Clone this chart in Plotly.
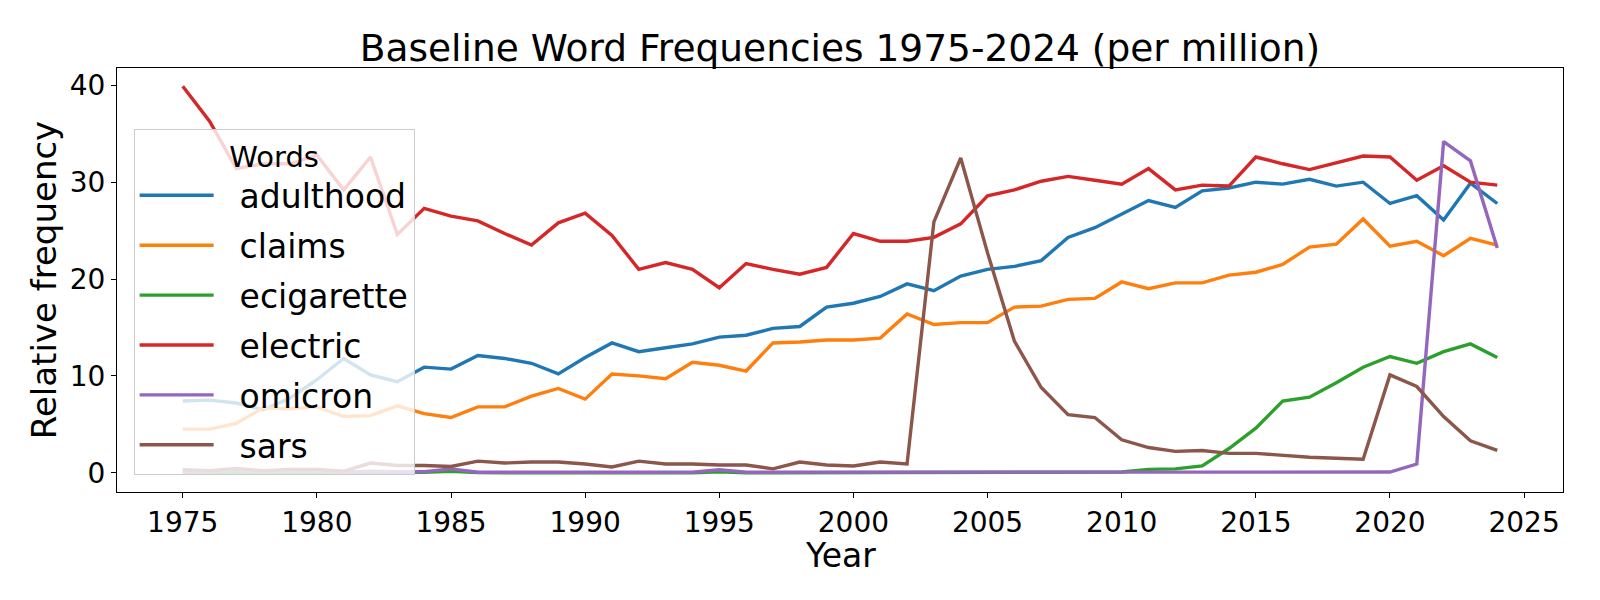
import plotly.graph_objects as go

years = list(range(1975, 2025))

adulthood = [7.4, 7.5, 7.2, 6.5, 7.7, 9.6, 11.8, 10.1, 9.4, 10.9,
             10.7, 12.1, 11.8, 11.3, 10.2, 11.9, 13.4, 12.5, 12.9, 13.3,
             14.0, 14.2, 14.9, 15.1, 17.1, 17.5, 18.2, 19.5, 18.8, 20.3,
             21.0, 21.3, 21.9, 24.3, 25.3, 26.7, 28.1, 27.4, 29.1, 29.4,
             30.0, 29.8, 30.3, 29.6, 30.0, 27.8, 28.6, 26.1, 29.9, 27.8]

claims = [4.5, 4.5, 5.1, 6.7, 6.6, 6.8, 5.8, 5.9, 6.9, 6.1,
          5.7, 6.8, 6.8, 7.9, 8.7, 7.6, 10.2, 10.0, 9.7, 11.4,
          11.1, 10.5, 13.4, 13.5, 13.7, 13.7, 13.9, 16.4, 15.3, 15.5,
          15.5, 17.1, 17.2, 17.9, 18.0, 19.7, 19.0, 19.6, 19.6, 20.4,
          20.7, 21.5, 23.3, 23.6, 26.2, 23.4, 23.9, 22.4, 24.2, 23.5]

ecigarette = [0.0, 0.0, 0.0, 0.0, 0.0, 0.0, 0.0, 0.0, 0.0, 0.05,
              0.15, 0.02, 0.0, 0.0, 0.0, 0.0, 0.0, 0.0, 0.0, 0.0,
              0.1, 0.0, 0.0, 0.0, 0.0, 0.0, 0.0, 0.0, 0.0, 0.0,
              0.0, 0.0, 0.0, 0.0, 0.02, 0.07, 0.35, 0.4, 0.7, 2.5,
              4.6, 7.4, 7.8, 9.3, 10.9, 12.0, 11.3, 12.5, 13.3, 11.9]

electric = [39.9, 36.3, 31.4, 31.9, 31.9, 32.8, 29.2, 32.6, 24.6, 27.3,
            26.5, 26.0, 24.7, 23.5, 25.8, 26.8, 24.5, 21.0, 21.7, 21.0,
            19.1, 21.6, 21.0, 20.5, 21.2, 24.7, 23.9, 23.9, 24.3, 25.7,
            28.6, 29.2, 30.1, 30.6, 30.2, 29.8, 31.4, 29.2, 29.7, 29.6,
            32.6, 31.9, 31.3, 32.0, 32.7, 32.6, 30.2, 31.7, 30.0, 29.7]

omicron = [0.1, 0.1, 0.3, 0.1, 0.2, 0.2, 0.05, 0.15, 0.1, 0.1,
           0.4, 0.05, 0.05, 0.05, 0.05, 0.05, 0.05, 0.05, 0.05, 0.05,
           0.3, 0.05, 0.05, 0.05, 0.05, 0.05, 0.05, 0.05, 0.05, 0.07,
           0.05, 0.05, 0.05, 0.06, 0.06, 0.06, 0.06, 0.06, 0.07, 0.08,
           0.08, 0.07, 0.07, 0.07, 0.07, 0.07, 0.9, 34.2, 32.2, 23.2]

sars = [0.3, 0.2, 0.45, 0.2, 0.35, 0.35, 0.15, 1.0, 0.75, 0.75,
        0.65, 1.2, 1.0, 1.1, 1.1, 0.9, 0.6, 1.2, 0.9, 0.9,
        0.8, 0.8, 0.4, 1.1, 0.8, 0.7, 1.1, 0.9, 25.9, 32.5,
        22.7, 13.6, 8.8, 6.0, 5.7, 3.4, 2.6, 2.2, 2.3, 2.0,
        2.0, 1.8, 1.6, 1.5, 1.4, 10.1, 8.9, 5.8, 3.3, 2.3]

series = [
    ("adulthood", adulthood, "#1f77b4"),
    ("claims", claims, "#ff7f0e"),
    ("ecigarette", ecigarette, "#2ca02c"),
    ("electric", electric, "#d62728"),
    ("omicron", omicron, "#9467bd"),
    ("sars", sars, "#8c564b"),
]

FONT = "DejaVu Sans"
PAD = "\u00a0\u00a0"

fig = go.Figure()
for name, vals, color in series:
    fig.add_trace(go.Scatter(
        x=years, y=vals, mode="lines", name=PAD + name, legendgroup=name,
        line=dict(color=color, width=3.4),
    ))

axis_common = dict(
    showline=True, linecolor="black", linewidth=1.2, mirror=True,
    ticks="outside", ticklen=5, tickwidth=1.2, tickcolor="black",
    showgrid=False, zeroline=False, automargin=False,
    tickfont=dict(family=FONT, size=28, color="black"),
)

fig.update_layout(
    width=1600, height=600,
    paper_bgcolor="white", plot_bgcolor="white",
    margin=dict(l=109, r=45, t=60, b=116),
    font=dict(family=FONT, color="black"),
    title=dict(
        text="Baseline Word Frequencies 1975-2024 (per million)",
        x=0.5, xref="paper", xanchor="center",
        y=1 - 40 / 600, yref="container", yanchor="middle",
        font=dict(family=FONT, size=37.5, color="black"),
    ),
    xaxis=dict(
        **axis_common,
        range=[1972.55, 2026.45],
        tickmode="array", tickvals=list(range(1975, 2026, 5)),
    ),
    yaxis=dict(
        **axis_common,
        range=[-1.99, 41.79],
        tickmode="array", tickvals=[0, 10, 20, 30, 40],
        title=dict(text="Relative frequency", font=dict(family=FONT, size=34, color="black"), standoff=2),
    ),
    legend=dict(
        x=0.0115, y=0.857, xanchor="left", yanchor="top",
        bgcolor="rgba(255,255,255,0.8)", bordercolor="#cccccc", borderwidth=1,
        font=dict(family=FONT, size=33, color="black"),
        title=dict(text="Words", side="top center", font=dict(family=FONT, size=29, color="black")),
        traceorder="grouped", tracegroupgap=4, itemwidth=74,
    ),
    showlegend=True,
    annotations=[dict(
        text="Year", xref="paper", yref="paper", x=0.5, y=0,
        xanchor="center", yanchor="middle", yshift=-63, showarrow=False,
        borderpad=0,
        font=dict(family=FONT, size=33, color="black"),
    )],
)

fig.write_html("out.html")
